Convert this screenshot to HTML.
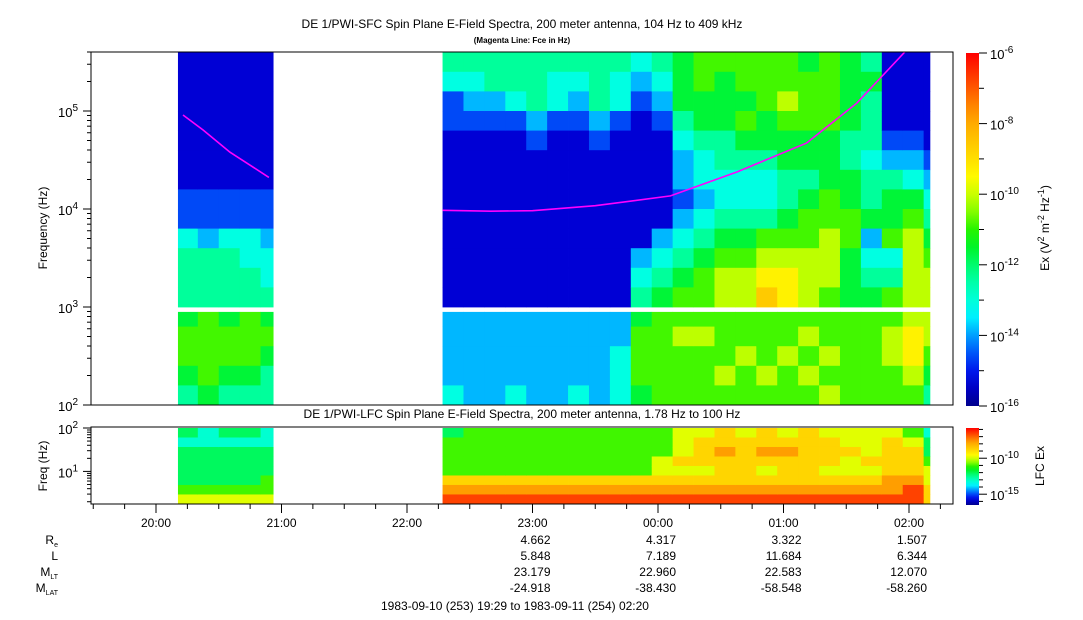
<!DOCTYPE html>
<html><head><meta charset="utf-8"><style>
html,body{margin:0;padding:0;background:#fff;}
svg{display:block;font-family:"Liberation Sans",Arial,sans-serif;}
</style></head><body>
<svg id="chart" width="1083" height="620" viewBox="0 0 1083 620" xmlns="http://www.w3.org/2000/svg">
<defs>
<linearGradient id="cbgrad" x1="0" y1="1" x2="0" y2="0"></linearGradient>
</defs>
<rect width="1083" height="620" fill="#fff"/>
<text x="522" y="28" font-size="12" text-anchor="middle">DE 1/PWI-SFC  Spin Plane E-Field Spectra, 200 meter antenna, 104 Hz to 409 kHz</text>
<text x="522" y="43" font-size="8" font-weight="bold" text-anchor="middle">(Magenta Line: Fce in Hz)</text>
<text x="522" y="418" font-size="12" text-anchor="middle">DE 1/PWI-LFC  Spin Plane E-Field Spectra, 200 meter antenna, 1.78 Hz to 100 Hz</text>
<g id="sfc"></g>
<g id="lfc"></g>
<g id="axes"></g>
<text transform="translate(47,228) rotate(-90)" font-size="12" text-anchor="middle">Frequency (Hz)</text>
<text transform="translate(47,466) rotate(-90)" font-size="12" text-anchor="middle">Freq (Hz)</text>
<text transform="translate(1049,228) rotate(-90)" font-size="12" text-anchor="middle">Ex (V<tspan dy="-5" font-size="9">2</tspan><tspan dy="5"> m</tspan><tspan dy="-5" font-size="9">-2</tspan><tspan dy="5"> Hz</tspan><tspan dy="-5" font-size="9">-1</tspan><tspan dy="5">)</tspan></text>
<text transform="translate(1044,466) rotate(-90)" font-size="12" text-anchor="middle">LFC Ex</text>
<g font-size="12" text-anchor="end">
<text x="58" y="544">R<tspan font-size="7" dy="3">e</tspan></text>
<text x="58" y="560">L</text>
<text x="58" y="576">M<tspan font-size="7" dy="3">LT</tspan></text>
<text x="58" y="592">M<tspan font-size="7" dy="3">LAT</tspan></text>
</g>
<g id="eph" font-size="12" text-anchor="end"></g>
<text x="515" y="610" font-size="12" text-anchor="middle">1983-09-10 (253) 19:29 to 1983-09-11 (254) 02:20</text>
</svg>
<script>
// ---- data ----
const block1Starts = [10.5, 20, 30, 40, 50];
const block1Ends = [20, 30, 40, 50, 56];
const block2First = 137, block2Last = 370, binMinutes = 10;
// SFC intensity levels (digits 0-9), rows from high frequency to low frequency
const sfcCols = [
"000000011344456654","000000011244466665","000000011344456654","000000011334466654","000000011233456544",
"431100000000022223","432100000000022222","442100000000022222","443100000000022223","444210000000022222",
"433100000000022222","432100000000022223","444210000000022222","433100000000022333","321000000023456665",
"432100000234566666","555432212345667666","665543323456667666","655544334567766676","665654334567766766",
"666554334678966676","667655445678866766","566655456677767676","666655566777666767","555544556655566666",
"454443445234566666","000012455634667766","000012356777778876","000001234567777654"
];
const sfcRowEdgesUpper = [5.6,5.4,5.2,5.0,4.8,4.6,4.4,4.2,4.0,3.8,3.6,3.4,3.2,3.0];
const sfcRowEdgesLower = [2.95,2.8,2.6,2.4,2.2,2.0];
// LFC levels, 8 channels from 100 Hz down to 1.78 Hz
const lfcCols = [
"43444456","33444456","43444456","43444456","33444556",
"45555789","55555789","55555789","55555789","55555789",
"55555789","55555789","55555789","55555789","55555789",
"55566789","66676789","67776789","77877789","67777789",
"77876789","67877789","77777789","67776789","66766789",
"66676789","67777889","56777899","34456677"
];
const fceTimes1 = [12.9, 22.5, 35.4, 45, 54];
const fceVals1 = [91000, 64000, 38000, 28000, 21000];
const fceTimes2 = [137, 160, 180, 210, 246, 278, 311, 335, 358];
const fceVals2 = [9700, 9500, 9600, 10800, 13600, 24000, 47000, 120000, 400000];
const hourLabels = ["20:00","21:00","22:00","23:00","00:00","01:00","02:00"];
const ephCols = [3,4,5,6];
const ephRe = ["4.662","4.317","3.322","1.507"];
const ephL = ["5.848","7.189","11.684","6.344"];
const ephMLT = ["23.179","22.960","22.583","12.070"];
const ephMLAT = ["-24.918","-38.430","-58.548","-58.260"];

// ---- scales ----
const NS = "http://www.w3.org/2000/svg";
const X0 = 156, PXH = 125.5;
function xOf(min){ return X0 + min * PXH / 60; }
function yMain(l){ return 405 - (l - 2) * 98; }
function yLfc(l){ return 428 + (2 - l) * 43.4; }
const stops = [[0,[0,0,140]],[0.08,[0,0,230]],[0.17,[0,110,255]],[0.26,[0,255,255]],[0.37,[0,255,150]],[0.48,[0,240,0]],[0.56,[150,255,0]],[0.64,[255,255,0]],[0.82,[255,160,0]],[1,[255,0,0]]];
function cmap(t){
  t = Math.max(0, Math.min(1, t));
  for (let i = 1; i < stops.length; i++){
    if (t <= stops[i][0]){
      const a = stops[i-1], b = stops[i], f = (t - a[0]) / (b[0] - a[0]);
      const c = a[1].map((v, k) => Math.round(v + (b[1][k] - v) * f));
      return "rgb(" + c.join(",") + ")";
    }
  }
  return "rgb(255,0,0)";
}
function sfcColor(d){ const v = -15.35 + 0.75 * d; return cmap((v + 16) / 10); }
function lfcColor(d){ const v = -16.5 + 1.1 * d; return cmap((v + 16.5) / 10.7); }
function mk(tag, attrs, parent){
  const e = document.createElementNS(NS, tag);
  for (const k in attrs) e.setAttribute(k, attrs[k]);
  parent.appendChild(e); return e;
}

// ---- bins ----
const binStarts = block1Starts.slice(), binEnds = block1Ends.slice();
for (let s = block2First; s < block2Last; s += binMinutes){ binStarts.push(s); binEnds.push(Math.min(s + binMinutes, block2Last)); }

const sfcG = document.getElementById("sfc");
const lfcG = document.getElementById("lfc");
const rowEdges = [];
for (let i = 0; i < sfcRowEdgesUpper.length - 1; i++) rowEdges.push([sfcRowEdgesUpper[i], sfcRowEdgesUpper[i+1]]);
for (let i = 0; i < sfcRowEdgesLower.length - 1; i++) rowEdges.push([sfcRowEdgesLower[i], sfcRowEdgesLower[i+1]]);
sfcCols.forEach((col, c) => {
  const x1 = xOf(binStarts[c]), x2 = xOf(binEnds[c]);
  for (let r = 0; r < rowEdges.length; r++){
    const y1 = yMain(rowEdges[r][0]), y2 = yMain(rowEdges[r][1]);
    const el = mk("rect", {x: x1.toFixed(2), y: y1.toFixed(2), width: (x2 - x1 + 0.4).toFixed(2), height: (y2 - y1 + 0.4).toFixed(2), fill: sfcColor(+col[r])}, sfcG);
    
    
  }
});
const lfcBand = 1.75 / 8;
lfcCols.forEach((col, c) => {
  const x1 = xOf(binStarts[c]), x2 = xOf(binEnds[c]);
  for (let r = 0; r < 8; r++){
    const y1 = yLfc(2 - r * lfcBand), y2 = yLfc(2 - (r + 1) * lfcBand);
    const el = mk("rect", {x: x1.toFixed(2), y: y1.toFixed(2), width: (x2 - x1 + 0.4).toFixed(2), height: (y2 - y1 + 0.4).toFixed(2), fill: lfcColor(+col[r])}, lfcG);
    
    
  }
});
function fceLine(ts, vs, name){
  const pts = ts.map((t, i) => xOf(t).toFixed(1) + "," + yMain(Math.log10(vs[i])).toFixed(1)).join(" ");
  const el = mk("polyline", {points: pts, fill: "none", stroke: "#ff00ff", "stroke-width": 1.6}, sfcG);
  
  
}
fceLine(fceTimes1, fceVals1, 'fce-line-block1');
fceLine(fceTimes2, fceVals2, 'fce-line-block2');

// ---- axes ----
const ax = document.getElementById("axes");
let e;
e = mk("rect", {x: 91, y: 52, width: 862, height: 353, fill: "none", stroke: "#000", "stroke-width": 1}, ax);


e = mk("rect", {x: 91, y: 427, width: 862, height: 77, fill: "none", stroke: "#000", "stroke-width": 1}, ax);


function supLabel(x, y, base, exp, anchor, name){
  const t = mk("text", {x: x, y: y, "font-size": 13, "text-anchor": anchor}, ax);
  
  
  t.textContent = base;
  const s = mk("tspan", {dy: -6, "font-size": 10}, t);
  s.textContent = exp;
}
for (let d = 2; d <= 5; d++){
  for (let m = 1; m <= 9; m++){
    const l = d + Math.log10(m);
    if (l > 5.61) break;
    const y = yMain(l);
    e = mk("line", {x1: 91 - (m === 1 ? 8 : 4), x2: 91, y1: y, y2: y, stroke: "#000"}, ax);
    
    
  }
  supLabel(78, yMain(d) + 6, "10", String(d), "end", 'sfc-y-tick-label');
}
for (let d = 0; d <= 2; d++){
  for (let m = 1; m <= 9; m++){
    const l = d + Math.log10(m);
    if (l < 0.25 || l > 2.001) continue;
    const y = yLfc(l);
    e = mk("line", {x1: 91 - (m === 1 ? 8 : 4), x2: 91, y1: y, y2: y, stroke: "#000"}, ax);
    
    
  }
}
supLabel(78, yLfc(2) + 6, "10", "2", "end", 'lfc-y-tick-label');
supLabel(78, yLfc(1) + 6, "10", "1", "end", 'lfc-y-tick-label');
for (let m = -30; m <= 375; m += 15){
  const x = xOf(m);
  if (x < 91 || x > 953) continue;
  const major = (m % 60 === 0);
  e = mk("line", {x1: x, x2: x, y1: 504, y2: 504 + (major ? 9 : 5), stroke: "#000"}, ax);
  
  
}
hourLabels.forEach((h, i) => {
  const t = mk("text", {x: xOf(i * 60), y: 527, "font-size": 12, "text-anchor": "middle"}, ax);
  
  
  t.textContent = h;
});
const eph = document.getElementById("eph");
[ephRe, ephL, ephMLT, ephMLAT].forEach((arr, r) => {
  arr.forEach((v, i) => {
    const t = mk("text", {x: xOf(ephCols[i] * 60) + 18, y: 544 + r * 16}, eph);
    
    
    t.textContent = v;
  });
});
const grad = document.getElementById("cbgrad");
for (let i = 0; i <= 20; i++){ mk("stop", {offset: (i / 20), "stop-color": cmap(i / 20)}, grad); }
e = mk("rect", {x: 966, y: 53, width: 13, height: 353, fill: "url(#cbgrad)"}, ax);


for (let v = -16; v <= -6; v++){
  const y = 406 - (v + 16) / 10 * 353;
  const lab = (v % 2 === 0);
  e = mk("line", {x1: 979, x2: 979 + (lab ? 8 : 5), y1: y, y2: y, stroke: "#000"}, ax);
  
  
  if (lab) supLabel(990, y + 6, "10", String(v), "start", 'colorbar-tick-label');
}
e = mk("rect", {x: 966, y: 428, width: 13, height: 77, fill: "url(#cbgrad)"}, ax);


for (let v = -16; v <= -6; v++){
  const y = 505 - (v + 16.5) / 10.7 * 77;
  const lab = (v === -10 || v === -15);
  e = mk("line", {x1: 979, x2: 979 + (lab ? 8 : 4), y1: y, y2: y, stroke: "#000"}, ax);
  
  
  if (lab) supLabel(990, y + 6, "10", String(v), "start", 'lfc-colorbar-tick-label');
}
</script>
</body></html>
